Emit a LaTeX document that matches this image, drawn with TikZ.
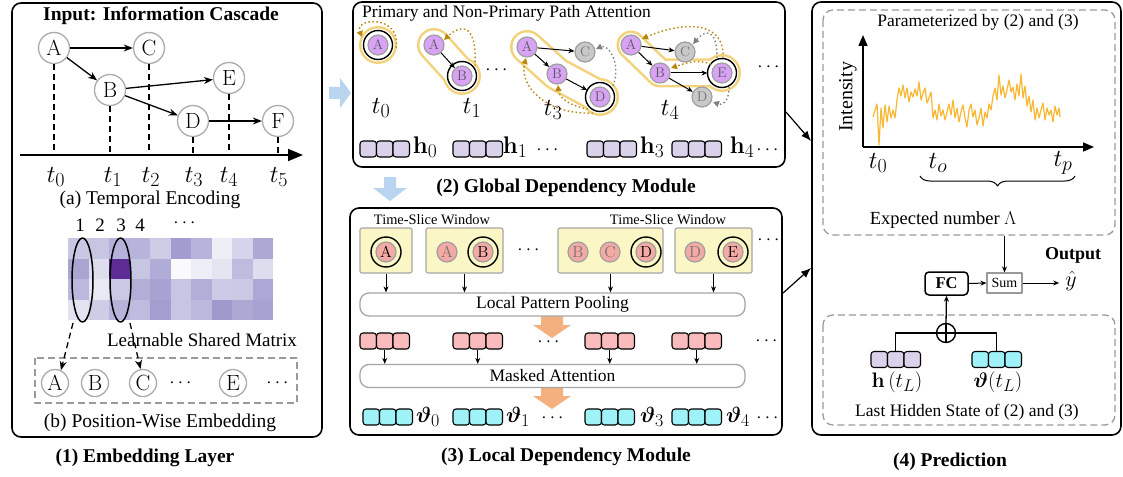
\RequirePackage{fix-cm}
\documentclass[tikz,border=0pt]{standalone}
\usepackage{amsmath,bm}
\usepackage[no-math]{fontspec}
\setmainfont{Liberation Serif}
\DeclareMathSizes{24.5}{24.5}{20}{16}
\DeclareMathSizes{24}{24}{19.5}{15.5}
\DeclareMathSizes{22}{22}{18}{14}
\DeclareMathSizes{21}{21}{17}{13}
\usetikzlibrary{arrows.meta,calc,decorations.pathreplacing,shapes.geometric}
\definecolor{purp}{HTML}{D8A2F5}
\definecolor{gnd}{HTML}{C9C9C9}
\definecolor{haloc}{HTML}{F3D27C}
\definecolor{goldd}{HTML}{B8860B}
\definecolor{hvc}{HTML}{D9D2EA}
\definecolor{pvc}{HTML}{F9BBBB}
\definecolor{cvc}{HTML}{9EF2F8}
\definecolor{pnk}{HTML}{F4AAA4}
\definecolor{ybx}{HTML}{FBF6C5}
\definecolor{bluea}{HTML}{B8D4EE}
\definecolor{orga}{HTML}{F5B07F}
\definecolor{sig}{HTML}{F8B833}
\definecolor{dgray}{HTML}{9A9A9A}
\newcommand{\vg}[4]{%
  \node[vbox,fill=#4] (#1a) at ({#2+8.25},#3) {};
  \node[vbox,fill=#4] (#1b) at ({#2+24.75},#3) {};
  \node[vbox,fill=#4] (#1c) at ({#2+41.25},#3) {};}
\tikzset{
  panel/.style={draw=black, line width=1.6pt, rounded corners=9pt},
  dbox/.style={draw=dgray, line width=1.3pt, dash pattern=on 7pt off 4pt, rounded corners=10pt},
  lbl/.style={font=\fontsize{19}{22}\selectfont, inner sep=0pt},
  slbl/.style={font=\fontsize{17.5}{20}\selectfont, inner sep=0pt},
  ttl/.style={font=\fontsize{19.5}{22}\selectfont\bfseries, inner sep=0pt},
  tl/.style={font=\fontsize{24.5}{26}\selectfont, inner sep=0pt},
  vl/.style={font=\fontsize{22}{24}\selectfont, inner sep=0pt},
  lnode/.style={circle, draw=gray!65, line width=1.3pt, fill=white, minimum size=31pt, inner sep=0pt, font=\fontsize{22}{22}\selectfont},
  bnode/.style={lnode, minimum size=27pt},
  pnode/.style={circle, draw=gray!75, line width=1.2pt, fill=purp, minimum size=20pt, inner sep=0pt, text=black!65, font=\fontsize{14}{14}\selectfont},
  gnode/.style={pnode, fill=gnd, text=black!55},
  knode/.style={pnode, fill=pnk, text=black!55, font=\fontsize{16}{16}\selectfont},
  kring/.style={knode, text=black},
  vbox/.style={draw=black, line width=1.1pt, rounded corners=3pt, minimum width=16.5pt, minimum height=16pt, inner sep=0pt},
  ybox/.style={draw=gray!70, fill=ybx, line width=1.1pt, rounded corners=2pt, inner sep=0pt},
  rbox/.style={draw=gray!70, fill=white, line width=1.3pt, rounded corners=9pt, minimum width=385pt, minimum height=23pt, inner sep=0pt, font=\fontsize{17.5}{20}\selectfont},
  arr/.style={line width=1.3pt, -{Stealth[length=9pt,width=7pt]}},
  marr/.style={line width=1pt, -{Stealth[length=6pt,width=5pt]}},
  sarr/.style={line width=1pt, -{Stealth[length=6pt,width=5pt]}},
  darr/.style={line width=1.3pt, dash pattern=on 6pt off 4pt, -{Stealth[length=9pt,width=7pt]}},
  vdsh/.style={line width=1.4pt, dash pattern=on 6pt off 4pt},
  gdot/.style={goldd, line width=1.4pt, dash pattern=on 1.5pt off 2.5pt, -{Triangle[length=6pt,width=6pt]}},
  gydot/.style={gray, line width=1.4pt, dash pattern=on 1.5pt off 2.5pt, -{Triangle[length=6pt,width=6pt]}},
  ring/.style={line width=1.4pt},
  conn/.style={line width=1.2pt, -{Latex[length=10pt,width=8pt]}},
}
\begin{document}
\begin{tikzpicture}[x=1pt, y=-1pt, line join=round]
\useasboundingbox (0,0) rectangle (1123,476);
\fill[white] (0,0) rectangle (1123,476);

% ================= (1) Embedding layer =================
\draw[panel] (12,3) rectangle (322,437);
\node[ttl] (intitle) at (161,16) {Input: Information Cascade};
\node[lnode] (A) at (54,48) {$\mathrm{A}$};
\node[lnode] (C) at (149,48) {$\mathrm{C}$};
\node[lnode] (B) at (110,90) {$\mathrm{B}$};
\node[lnode] (E) at (229,78) {$\mathrm{E}$};
\node[lnode] (D) at (193,121) {$\mathrm{D}$};
\node[lnode] (F) at (278,121) {$\mathrm{F}$};
\draw[arr] (A) -- (C);
\draw[arr] (A) -- (B);
\draw[arr] (B) -- (E);
\draw[arr] (B) -- (D);
\draw[arr] (D) -- (F);
\coordinate (axs) at (20,155);
\coordinate (axe) at (303,155);
\foreach \n in {A,B,C,D,E,F} \draw[vdsh] (\n.south) -- (\n.south |- axs);
\draw[line width=1.8pt, -{Triangle[length=15pt,width=12pt]}] (axs) -- (axe);
\node[tl] (lt0) at (56,177) {$t_0$};
\node[tl] (lt1) at (113,177) {$t_1$};
\node[tl] (lt2) at (151,177) {$t_2$};
\node[tl] (lt3) at (194,177) {$t_3$};
\node[tl] (lt4) at (229,177) {$t_4$};
\node[tl] (lt5) at (279,177) {$t_5$};
\node[lbl, font=\fontsize{19.5}{22}\selectfont] (capa) at (150,200) {(a) Temporal Encoding};

% matrix
\foreach \rw [count=\j from 0] in {%
 {C8C8E4,C6C6E2,B4B2DA,B6B4DA,CCCCE6,A19DCF,B6B4DA,EEEEF6,D4D4EA,ACA9D5},%
 {A9A5D2,DEDDEE,5E2C95,C6C6E2,AFACD7,FAFAFD,EEEEF7,E5E5F1,BDBCDE,DEDDEE},%
 {BAB9DD,E9E9F4,CAC9E4,B1AFD8,A6A3D2,C6C6E2,B1AFD8,CCCBE5,CAC9E4,ABA8D5},%
 {E2E2F1,CECDE6,B6B4DA,BDBCDE,A29ECF,C6C6E2,BAB9DD,9E9ACD,ACA9D5,A6A3D2}}{%
  \foreach \hx [count=\i from 0] in \rw {%
    \definecolor{cellc}{HTML}{\hx}%
    \fill[cellc] ({68+20.5*\i},{238+20.5*\j}) rectangle ++(20.6,20.6);
  }
}
\node[lbl] (m1) at (80,225) {1};
\node[lbl] (m2) at (100,225) {2};
\node[lbl] (m3) at (121,225) {3};
\node[lbl] (m4) at (140,225) {4};
\node[lbl] (mdots) at (186,223) {$\cdots$};
\node[ellipse, draw, line width=1.5pt, minimum width=21pt, minimum height=84pt, inner sep=0pt] (e1) at (82.5,280) {};
\node[ellipse, draw, line width=1.5pt, minimum width=21pt, minimum height=84pt, inner sep=0pt] (e3) at (120.5,280) {};
\node[lbl] (lsm) at (202,340) {Learnable Shared Matrix};
\draw[dbox, rounded corners=0pt] (35,358) rectangle (297,403);
\node[bnode] (bA) at (55,383) {$\mathrm{A}$};
\node[bnode] (bB) at (95,383) {$\mathrm{B}$};
\node[bnode] (bC) at (143,383) {$\mathrm{C}$};
\node[lbl] (bd1) at (182,383) {$\cdots$};
\node[bnode] (bE) at (233,383) {$\mathrm{E}$};
\node[lbl] (bd2) at (279,383) {$\cdots$};
\coordinate (e1tail) at (73,323);
\coordinate (e3tail) at (130,323);
\draw[darr] (e1tail) -- (bA.65);
\draw[darr] (e3tail) -- (bC.100);
\node[lbl, font=\fontsize{19.5}{22}\selectfont] (capb) at (160,423) {(b) Position-Wise Embedding};
\node[ttl] (cap1) at (145,458) {(1) Embedding Layer};

% blue arrows
\fill[bluea] (329,87) -- (340,87) -- (340,78) -- (351,93) -- (340,108) -- (340,99) -- (329,99) -- cycle;
\fill[bluea] (384,177) -- (396,177) -- (396,188) -- (407,188) -- (390,201) -- (373,188) -- (384,188) -- cycle;

% ================= (2) Global dependency =================
\draw[panel] (353,2) rectangle (785,167);
\node[slbl, anchor=west] (gtitle) at (362,13) {Primary and Non-Primary Path Attention};
% positions
\coordinate (Pa0) at (378,45);
\coordinate (Pa1) at (434,45); \coordinate (Pb1) at (462,76);
\coordinate (Pa3) at (527,47); \coordinate (Pb3) at (557,74); \coordinate (Pc3) at (585,52); \coordinate (Pd3) at (600,97);
\coordinate (Pa4) at (631,45); \coordinate (Pb4) at (660,73); \coordinate (Pc4) at (685,52); \coordinate (Pe4) at (722,73); \coordinate (Pd4) at (702,97);
% halos (outer)
\fill[haloc] (Pa0) circle[radius=19pt];
\fill[haloc] (Pb1) circle[radius=19pt];
\draw[haloc, line width=34pt, line cap=round] (Pa1) -- (Pb1);
\fill[haloc] (Pd3) circle[radius=19pt];
\draw[haloc, line width=34pt, line cap=round] (Pa3) -- (Pb3) -- (Pd3);
\fill[haloc] (Pe4) circle[radius=19pt];
\draw[haloc, line width=29pt, line cap=round] (Pa4) -- (Pb4) -- (Pe4);
% halos (inner)
\fill[white] (Pa0) circle[radius=16.5pt];
\fill[white] (Pb1) circle[radius=16.5pt];
\draw[white, line width=29pt, line cap=round] (Pa1) -- (Pb1);
\fill[white] (Pd3) circle[radius=16.5pt];
\draw[white, line width=29pt, line cap=round] (Pa3) -- (Pb3) -- (Pd3);
\fill[white] (Pe4) circle[radius=16.5pt];
\draw[white, line width=24pt, line cap=round] (Pa4) -- (Pb4) -- (Pe4);
% nodes
\node[pnode] (a0) at (Pa0) {$\mathrm{A}$};
\node[pnode] (a1) at (Pa1) {$\mathrm{A}$};
\node[pnode] (b1) at (Pb1) {$\mathrm{B}$};
\node[pnode] (a3) at (Pa3) {$\mathrm{A}$};
\node[pnode] (b3) at (Pb3) {$\mathrm{B}$};
\node[gnode] (c3) at (Pc3) {$\mathrm{C}$};
\node[pnode] (d3) at (Pd3) {$\mathrm{D}$};
\node[pnode] (a4) at (Pa4) {$\mathrm{A}$};
\node[pnode] (b4) at (Pb4) {$\mathrm{B}$};
\node[gnode] (c4) at (Pc4) {$\mathrm{C}$};
\node[pnode] (e4) at (Pe4) {$\mathrm{E}$};
\node[gnode] (d4) at (Pd4) {$\mathrm{D}$};
\draw[ring] (a0) circle[radius=14.5pt];
\draw[ring] (b1) circle[radius=14.5pt];
\draw[ring] (d3) circle[radius=14.5pt];
\draw[ring] (e4) circle[radius=14.5pt];
% edges
\draw[marr] (a1) -- (b1);
\draw[marr] (a3) -- (c3);
\draw[marr] (a3) -- (b3);
\draw[marr, shorten >=4pt] (b3) -- (d3);
\draw[marr] (a4) -- (c4);
\draw[marr] (a4) -- (b4);
\draw[marr, shorten >=4pt] (b4) -- (e4);
\draw[marr] (b4) -- (d4);
% dotted attention arrows
\draw[gdot] ($(a0)+(18,3)$) .. controls ($(a0)+(24,-30)$) and ($(a0)+(-24,-28)$) .. ($(a0)+(-16,-8)$);
\draw[gdot] ($(b1)+(13,-10)$) .. controls ($(b1)+(15,-52)$) and ($(a1)+(28,-22)$) .. ($(a1)+(10,-5)$);
\draw[gdot] ($(d3)+(-12,12)$) .. controls ($(d3)+(-30,9)$) and ($(b3)+(2,24)$) .. ($(b3)+(1,11)$);
\draw[gdot] ($(d3)+(-7,16)$) .. controls ($(d3)+(-55,18)$) and ($(a3)+(-8,38)$) .. ($(a3)+(-1,11)$);
\draw[gydot] ($(d3)+(13,-11)$) .. controls ($(d3)+(22,-36)$) and ($(c3)+(22,-8)$) .. ($(c3)+(11,-3)$);
\draw[gdot] ($(e4)+(1,-15)$) .. controls ($(e4)+(3,-58)$) and ($(a4)+(42,-20)$) .. ($(a4)+(11,-6)$);
\draw[gdot] ($(e4)+(-11,-9)$) .. controls ($(e4)+(-26,-14)$) and ($(b4)+(26,-10)$) .. ($(b4)+(11,-5)$);
\draw[gydot] ($(e4)+(-5,-15)$) .. controls ($(e4)+(-5,-46)$) and ($(c4)+(20,-22)$) .. ($(c4)+(8,-8)$);
\draw[gydot] ($(e4)+(7,14)$) .. controls ($(e4)+(7,31)$) and ($(d4)+(19,8)$) .. ($(d4)+(11,5)$);
\node[lbl] (gd1) at (498,70) {$\cdots$};
\node[lbl] (gd2) at (770,67) {$\cdots$};
\node[tl] (gt0) at (381,108) {$t_0$};
\node[tl] (gt1) at (472,108) {$t_1$};
\node[tl] (gt3) at (553,110) {$t_3$};
\node[tl] (gt4) at (670,110) {$t_4$};
\vg{h0}{360}{149}{hvc}
\vg{h1}{453}{149}{hvc}
\vg{h3}{587}{149}{hvc}
\vg{h4}{672}{149}{hvc}
\node[tl, font=\fontsize{24}{26}\selectfont] (hl0) at (425,147) {$\mathbf{h}_0$};
\node[tl, font=\fontsize{24}{26}\selectfont] (hl1) at (515,147) {$\mathbf{h}_1$};
\node[lbl] (hd1) at (549,150) {$\cdots$};
\node[tl, font=\fontsize{24}{26}\selectfont] (hl3) at (652,147) {$\mathbf{h}_3$};
\node[tl, font=\fontsize{24}{26}\selectfont] (hl4) at (742,147) {$\mathbf{h}_4$};
\node[lbl] (hd2) at (769,150) {$\cdots$};
\node[ttl] (cap2) at (566,188) {(2) Global Dependency Module};

% ================= (3) Local dependency =================
\draw[panel] (350,208) rectangle (782,435);
\node[font=\fontsize{14.4}{16}\selectfont, inner sep=0pt] (tsw1) at (432,220) {Time-Slice Window};
\node[font=\fontsize{14.4}{16}\selectfont, inner sep=0pt] (tsw2) at (668,220) {Time-Slice Window};
\node[ybox, minimum width=52pt, minimum height=45pt] (w1) at (386,250.5) {};
\node[ybox, minimum width=77pt, minimum height=45pt] (w2) at (464.5,250.5) {};
\node[ybox, minimum width=105pt, minimum height=45pt] (w3) at (610.5,250.5) {};
\node[ybox, minimum width=77pt, minimum height=45pt] (w4) at (713.5,250.5) {};
\node[kring] (kA1) at (386,252) {$\mathrm{A}$};
\node[knode] (kA2) at (447,252) {$\mathrm{A}$};
\node[kring] (kB2) at (483,252) {$\mathrm{B}$};
\node[knode] (kB3) at (578,252) {$\mathrm{B}$};
\node[knode] (kC3) at (610,252) {$\mathrm{C}$};
\node[kring] (kD3) at (646,252) {$\mathrm{D}$};
\node[knode] (kD4) at (695,252) {$\mathrm{D}$};
\node[kring] (kE4) at (733,252) {$\mathrm{E}$};
\foreach \k in {kA1,kB2,kD3,kE4} \draw[ring] (\k) circle[radius=15pt];
\node[lbl] (wd1) at (530,250) {$\cdots$};
\node[lbl] (wd2) at (770,240) {$\cdots$};
% orange arrows (behind boxes)
\fill[orga] (541,310) -- (563,310) -- (563,325) -- (571,325) -- (552,338) -- (533,325) -- (541,325) -- cycle;
\fill[orga] (541,384) -- (563,384) -- (563,396) -- (571,396) -- (552,409) -- (533,396) -- (541,396) -- cycle;
\node[rbox] (lpp) at (552.5,304.5) {Local Pattern Pooling};
\node[rbox] (ma) at (552.5,376) {Masked Attention};
\foreach \w in {w1,w2,w3,w4} \draw[sarr] (\w.south) -- (\w.south |- lpp.north);
\vg{r0}{360}{341}{pvc}
\vg{r1}{453}{341}{pvc}
\vg{r3}{585}{341}{pvc}
\vg{r4}{672}{341}{pvc}
\node[lbl] (rd1) at (550,342) {$\cdots$};
\node[lbl] (rd2) at (768,341) {$\cdots$};
\foreach \r in {r0b,r1b,r3b,r4b} \draw[sarr] (\r.south) -- (\r.south |- ma.north);
\vg{c0}{363}{417}{cvc}
\vg{c1}{453}{417}{cvc}
\vg{c3}{585}{417}{cvc}
\vg{c4}{672}{417}{cvc}
\node[vl] (cl0) at (428,417) {$\bm{\vartheta}_0$};
\node[vl] (cl1) at (518,417) {$\bm{\vartheta}_1$};
\node[lbl] (cd1) at (554,418) {$\cdots$};
\node[vl] (cl3) at (652,417) {$\bm{\vartheta}_3$};
\node[vl] (cl4) at (738,417) {$\bm{\vartheta}_4$};
\node[lbl] (cd2) at (769,418) {$\cdots$};
\node[ttl] (cap3) at (566,457) {(3) Local Dependency Module};

% ================= (4) Prediction =================
\draw[panel] (812,2) rectangle (1121,435);
\draw[dbox] (823,10) rectangle (1115,235);
\node[slbl] (ptitle) at (978,22) {Parameterized by (2) and (3)};
\coordinate (org) at (863,147);
\coordinate (yend) at (863,35);
\coordinate (xend) at (1094,147);
\draw[sig, line width=1.2pt] plot coordinates {(873,117) (875,110) (877,104) (879,145) (881,108) (883,128) (885,105) (887,122) (889,106) (891,118) (893,110) (895,118) (897,100) (899,88) (901,96) (903,85) (905,98) (907,88) (909,102) (911,92) (913,97) (915,89) (917,96) (919,82) (921,100) (923,93) (925,88) (927,103) (929,98) (931,92) (933,118) (935,110) (937,120) (939,104) (941,116) (943,110) (945,120) (947,112) (949,104) (951,115) (953,100) (955,118) (957,108) (959,122) (961,112) (963,105) (965,118) (967,127) (969,110) (971,104) (973,117) (975,110) (977,125) (979,118) (981,108) (983,126) (985,112) (987,118) (989,104) (991,110) (993,96) (995,88) (997,100) (999,75) (1001,95) (1003,86) (1005,98) (1007,90) (1009,80) (1011,92) (1013,87) (1015,100) (1017,84) (1019,96) (1021,74) (1023,98) (1025,86) (1027,106) (1029,96) (1031,112) (1033,100) (1035,120) (1037,108) (1039,118) (1041,110) (1043,103) (1045,120) (1047,108) (1049,115) (1051,110) (1053,122) (1055,106) (1057,115) (1059,108) (1060,117)};
\draw[line width=1.6pt, -{Triangle[length=11pt,width=9pt]}] (org) -- (yend);
\draw[line width=1.6pt, -{Triangle[length=11pt,width=9pt]}] (org) -- (xend);
\node[lbl, font=\fontsize{20}{22}\selectfont, rotate=90] (inty) at (848,97) {Intensity};
\node[tl] (pt0) at (878,163) {$t_0$};
\node[tl] (pto) at (938,163) {$t_o$};
\node[tl] (ptp) at (1063,163) {$t_p$};
\coordinate (br1) at (920,176);
\coordinate (br2) at (1075,176);
\draw[line width=1pt, decorate, decoration={brace, mirror, amplitude=10pt}] (br1) -- (br2);
\node[lbl, font=\fontsize{18.5}{21}\selectfont] (expn) at (943,220) {Expected number $\Lambda$};
\coordinate (lamb) at (1004.5,236);
\node[draw=gray!80, line width=1.2pt, minimum width=35pt, minimum height=20pt, inner sep=0pt, font=\fontsize{14}{16}\selectfont] (sum) at (1004.5,283) {Sum};
\node[draw=black, line width=1.5pt, rounded corners=4pt, minimum width=43pt, minimum height=23pt, inner sep=0pt, font=\fontsize{16.5}{18}\selectfont\bfseries] (fc) at (946.5,283.5) {FC};
\node[tl, font=\fontsize{22}{24}\selectfont] (yhat) at (1071,281) {$\hat{y}$};
\node[ttl, font=\fontsize{18}{20}\selectfont\bfseries] (outp) at (1073,255) {Output};
\draw[sarr] (lamb) -- (sum.north);
\draw[sarr] (fc.east) -- (sum.west);
\draw[sarr] (sum.east) -- ($(yhat.west)+(-6,2)$);
\draw[dbox] (823,315) rectangle (1115,425);
\node[circle, draw, line width=1.4pt, minimum size=19pt, inner sep=0pt] (plus) at (946,333) {};
\draw[line width=1.4pt] (plus.north) -- (plus.south) (plus.west) -- (plus.east);
\vg{hl}{871}{359.5}{hvc}
\vg{cl}{972}{359.5}{cvc}
\draw[line width=1.3pt] (plus.west) -| (hlb.north);
\draw[line width=1.3pt] (plus.east) -| (clb.north);
\draw[sarr, line width=1.3pt] (plus.north) -- (fc.south);
\node[vl, font=\fontsize{21}{23}\selectfont] (hlt) at (897,382) {$\mathbf{h}\,(t_L)$};
\node[vl, font=\fontsize{21}{23}\selectfont] (clt) at (998,382) {$\bm{\vartheta}(t_L)$};
\node[slbl] (lhs) at (967,412) {Last Hidden State of (2) and (3)};
\node[ttl] (cap4) at (950,462) {(4) Prediction};

% connectors between modules
\coordinate (c2o) at (786,112);
\coordinate (c4i) at (811,141);
\coordinate (c3o) at (783,293);
\coordinate (c4j) at (811,268);
\draw[conn] (c2o) -- (c4i);
\draw[conn] (c3o) -- (c4j);
\end{tikzpicture}
\end{document}
